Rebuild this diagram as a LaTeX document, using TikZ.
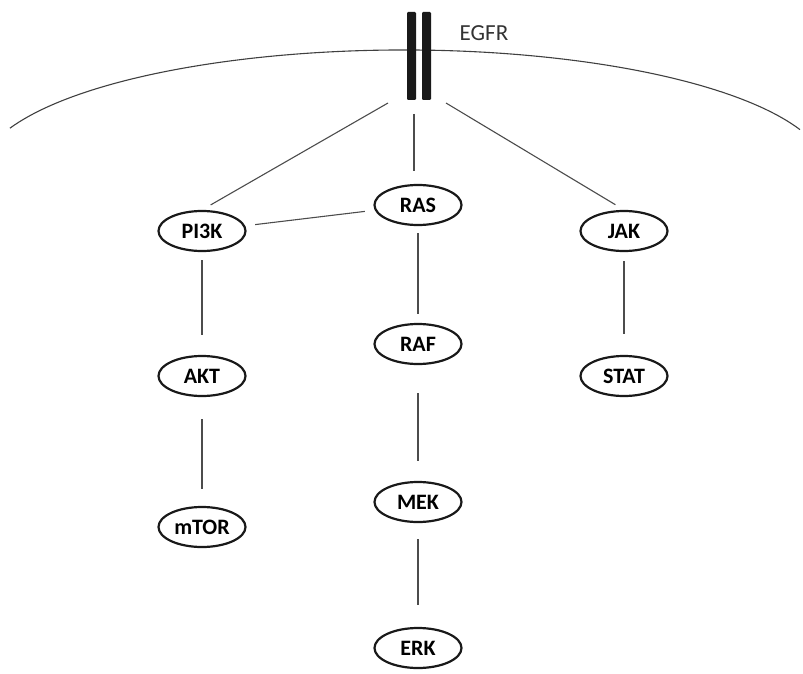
\documentclass[tikz,border=0pt]{standalone}
\usepackage{fontspec}
\setmainfont{Carlito}
\usetikzlibrary{positioning,shapes.geometric}

\tikzset{
    protein/.style={ellipse, draw=black!90, line width=1.1pt, minimum width=43.5pt,
        minimum height=20pt, inner sep=0pt, font=\bfseries\fontsize{11}{13}\selectfont},
    link/.style={draw=black!70, line width=0.55pt},
}

\begin{document}
\begin{tikzpicture}[x=0.5pt, y=-0.5pt, on grid] % EGFR signalling cascades
    \useasboundingbox (0,0) rectangle (803,674);

    % cell membrane and the receptor
    \draw[black!75, line width=0.55pt] (404,175) ++(158:212.5pt and 62.5pt)
        arc[start angle=158, end angle=21.3, x radius=212.5pt, y radius=62.5pt];
    \fill[black!90, rounded corners=0.6pt] (407,12) rectangle (416,100);
    \fill[black!90, rounded corners=0.6pt] (422,12) rectangle (431,100);
    \node[font=\fontsize{11.5}{13}\selectfont, text=black!80] (egfr) at (484,33) {EGFR};
    \coordinate (egfrL) at (388,103);
    \coordinate (egfrM) at (414,114);
    \coordinate (egfrR) at (446,103);

    \node[protein] (ras) at (418,205) {RAS};
    \node[protein] (pik) at (202,231) {PI3K};
    \node[protein] (jak) at (624,231) {JAK};
    \node[protein, below=72.5pt of pik] (akt) {AKT};
    \node[protein, below=75.5pt of akt] (mtor) {mTOR};
    \node[protein, below=69.5pt of ras] (raf) {RAF};
    \node[protein, below=79pt of raf] (mek) {MEK};
    \node[protein, below=73pt of mek] (erk) {ERK};
    \node[protein, below=72.5pt of jak] (stat) {STAT};

    \draw[link, shorten >=5pt] (egfrL) -- (pik.north);
    \draw[link, shorten >=6.5pt] (egfrM) -- (egfrM |- ras.north);
    \draw[link, shorten >=5pt] (egfrR) -- (jak.north);
    \draw[link, shorten <=5pt, shorten >=5pt] (pik) -- (ras);
    \draw[link, shorten <=4pt, shorten >=10pt] (pik) -- (akt);
    \draw[link, shorten <=11pt, shorten >=8.5pt] (akt) -- (mtor);
    \draw[link, shorten <=3.5pt, shorten >=4.5pt] (ras) -- (raf);
    \draw[link, shorten <=14pt, shorten >=10pt] (raf) -- (mek);
    \draw[link, shorten <=8pt, shorten >=11pt] (mek) -- (erk);
    \draw[link, shorten <=4.5pt, shorten >=10.5pt] (jak) -- (stat);
\end{tikzpicture}
\end{document}
